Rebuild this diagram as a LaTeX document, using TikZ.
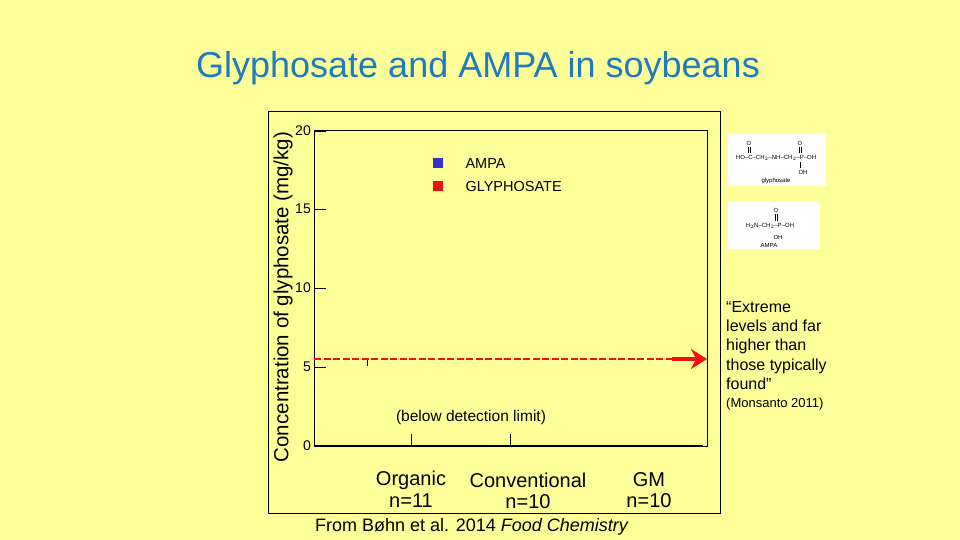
\documentclass[tikz,border=0pt]{standalone}
\usepackage{fontspec}
\setmainfont{Liberation Sans}
\usetikzlibrary{arrows.meta}
\definecolor{bg}{HTML}{FFFF99}
\definecolor{ttl}{HTML}{1F7BBF}
\definecolor{ampa}{HTML}{3333CC}
\definecolor{gly}{HTML}{EE1111}
\begin{document}
\begin{tikzpicture}[x=1pt,y=-1pt,
  lab/.style={font=\fontsize{20}{20}\selectfont},
  tick/.style={font=\fontsize{14}{14}\selectfont,anchor=east,inner sep=1pt},
  chem/.style={font=\fontsize{6}{6}\selectfont,inner sep=0pt},
  rt/.style={font=\fontsize{16}{19.3}\selectfont,align=left,anchor=north west,inner sep=0pt}]
\fill[bg] (0,0) rectangle (960,540);
\useasboundingbox (0,0) rectangle (960,540);
\node[text=ttl,font=\fontsize{36}{36}\selectfont] (title) at (478,68) {Glyphosate and AMPA in soybeans};
% chart frame
\draw[line width=0.8pt] (268,111) rectangle (720,513);
\draw[line width=0.5pt] (314,130) rectangle (707,446);
\draw[line width=2.5pt] (314,446) -- (703,446);
\draw[line width=1pt] (314,130) -- (314,446);
\foreach \v/\y in {20/131,15/209,10/288,5/367,0/446}{
  \draw (314,\y) -- (326,\y);
  \node[tick] at (312,\y) {\v};}
\draw[line width=1pt] (411,446) -- (411,434);
\draw[line width=1pt] (510,446) -- (510,434);
\draw (367,359) -- (367,366);
\node[rotate=90,font=\fontsize{20.5}{20.5}\selectfont] (ylab) at (283,297) {Concentration of glyphosate (mg/kg)};
% legend
\fill[ampa] (433,158) rectangle (443,168);
\fill[gly] (433,181) rectangle (443,191);
\node[anchor=west,font=\fontsize{14.5}{14.5}\selectfont] (l1) at (462,164) {AMPA};
\node[anchor=west,font=\fontsize{14.5}{14.5}\selectfont] (l2) at (462,187) {GLYPHOSATE};
% dashed line & arrow
\coordinate (ds) at (314,359);
\coordinate (de) at (672,359);
\coordinate (ae) at (707,359);
\draw[gly,line width=2.5pt,dash pattern=on 7pt off 2.5pt] (ds) -- (de);
\draw[gly,line width=4pt,-{Stealth[length=16pt,width=20pt]}] (de) -- (ae);
\node[font=\fontsize{15.5}{15.5}\selectfont] (bdl) at (471,417) {(below detection limit)};
% categories
\node[lab] (o) at (411,480) {Organic};
\node[lab] (on) at (411,501) {n=11};
\node[lab] (c) at (528,480) {Conventional};
\node[lab] (cn) at (528,502) {n=10};
\node[lab] (g) at (649,480) {GM};
\node[lab] (gn) at (649,501) {n=10};
\node[font=\fontsize{18}{18}\selectfont] (src) at (472,527) {From Bøhn et al. 2014 \textit{Food Chemistry}};
% right text
\node[rt] (q) at (726,301) {“Extreme\\levels and far\\higher than\\those typically\\found”};
\node[anchor=north west,inner sep=0pt,font=\fontsize{13}{13}\selectfont] (m) at (726,398) {(Monsanto 2011)};
% chemical structures
\fill[white] (728,134) rectangle (826,186);
\fill[white] (728,202) rectangle (820,249);
\node[chem] (g1) at (776,158) {HO–C–CH$_2$–NH–CH$_2$–P–OH};
\node[chem] (g2) at (749,143) {O};
\node[chem] (g3) at (800,143) {O};
\draw[line width=0.3pt] (748.3,147) -- (748.3,153) (749.7,147) -- (749.7,153);
\draw[line width=0.3pt] (799.3,147) -- (799.3,153) (800.7,147) -- (800.7,153);
\draw[line width=0.3pt] (800,162) -- (800,168);
\node[chem] (g4) at (803,172) {OH};
\node[chem] (g5) at (776,181) {glyphosate};
\node[chem] (a1) at (770,226) {H$_2$N–CH$_2$–P–OH};
\node[chem] (a2) at (776,210) {O};
\draw[line width=0.3pt] (775.3,214) -- (775.3,221) (776.7,214) -- (776.7,221);
\node[chem] (a3) at (778,237) {OH};
\node[chem] (a4) at (769,245) {AMPA};
\end{tikzpicture}
\end{document}
